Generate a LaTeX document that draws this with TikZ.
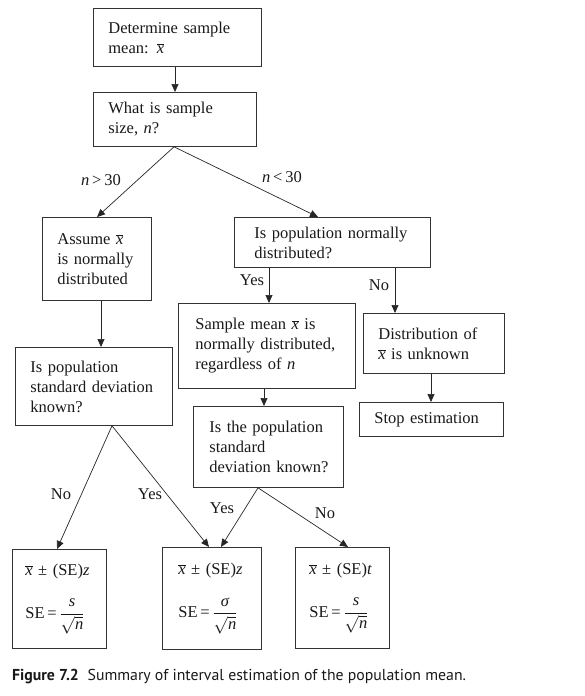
\documentclass[tikz,border=0pt]{standalone}
\usepackage{fontspec}
\setmainfont{Liberation Serif}
\newfontfamily\capfont{PT Sans}
\usetikzlibrary{arrows.meta}
\newcommand\xbar{\ensuremath{\overline{\mbox{\itshape x}}}}
\newcommand\frs{\ensuremath{\displaystyle\frac{\mbox{\itshape s}}{\sqrt{\mbox{\itshape n}}}}}
\newcommand\frsig{\ensuremath{\displaystyle\frac{\mbox{\itshape σ}}{\sqrt{\mbox{\itshape n}}}}}
\newcommand\bodyfont{\fontsize{16.5}{20}\selectfont}
\tikzset{
  box/.style={draw=black!80, line width=0.8pt, align=left, inner ysep=2pt,
    anchor=north west, font=\bodyfont, text=black!90},
  arr/.style={draw=black!85, line width=0.7pt, -{Triangle[length=8pt,width=7pt]}},
  lab/.style={font=\bodyfont, inner sep=0pt, text=black!90}
}
\begin{document}
\begin{tikzpicture}[x=1pt,y=-1pt]
\useasboundingbox (0,0) rectangle (585,696);
% boxes
\node[box, inner xsep=15pt, text width=138pt, minimum height=58pt] (b1) at (93,8)
  {\mbox{Determine sample}\\mean: \xbar};
\node[box, inner xsep=15pt, text width=133pt, minimum height=54pt] (b2) at (93,92)
  {\mbox{What is sample}\\size, \textit{n}?};
\node[box, inner xsep=15pt, text width=79pt, minimum height=83pt] (b3) at (42,217)
  {\mbox{Assume \xbar}\\\mbox{is normally}\\\mbox{distributed}};
\node[box, inner xsep=20pt, text width=156pt, minimum height=50pt] (b4) at (234,217)
  {\mbox{Is population normally}\\distributed?};
\node[box, inner xsep=17pt, text width=143pt, minimum height=85pt] (b5) at (178,303)
  {\mbox{Sample mean \xbar{} is}\\\mbox{normally distributed,}\\\mbox{regardless of \textit{n}}};
\node[box, inner xsep=15pt, text width=111pt, minimum height=60pt] (b6) at (363,313)
  {\mbox{Distribution of}\\\mbox{\xbar{} is unknown}};
\node[box, inner xsep=15pt, text width=114pt, minimum height=34pt] (b7) at (359,402)
  {\mbox{Stop estimation}};
\node[box, inner xsep=16pt, text width=118pt, minimum height=81pt] (b8) at (193,406)
  {\mbox{Is the population}\\standard\\\mbox{deviation known?}};
\node[box, inner xsep=15pt, text width=127pt, minimum height=78pt] (b9) at (15,347)
  {\mbox{Is population}\\\mbox{standard deviation}\\known?};
\node[box, inner xsep=13pt, text width=68pt, minimum height=99pt] (b10) at (12,549)
  {\mbox{\xbar{} ± (SE)\textit{z}}\\[19pt]\mbox{SE\,=\,\frs}};
\node[box, inner xsep=16pt, text width=67pt, minimum height=102pt] (b11) at (162,547)
  {\mbox{\xbar{} ± (SE)\textit{z}}\\[19pt]\mbox{SE\,=\,\frsig}};
\node[box, inner xsep=14pt, text width=66pt, minimum height=101pt] (b12) at (295,547)
  {\mbox{\xbar{} ± (SE)\textit{t}}\\[19pt]\mbox{SE\,=\,\frs}};
% connectors
\draw[arr] ([xshift=82pt]b1.south west) -- ([xshift=82pt]b2.north west);
\draw[arr] ([xshift=81pt]b2.south west) -- ([xshift=55pt]b3.north west);
\draw[arr] ([xshift=81pt]b2.south west) -- ([xshift=84pt]b4.north west);
\draw[arr] ([xshift=35pt]b4.south west) -- ([xshift=91pt]b5.north west);
\draw[arr] ([xshift=161pt]b4.south west) -- ([xshift=32pt]b6.north west);
\draw[arr] ([xshift=86pt]b5.south west) -- ([xshift=71pt]b8.north west);
\draw[arr] ([xshift=68pt]b6.south west) -- ([xshift=72pt]b7.north west);
\draw[arr] ([xshift=59pt]b3.south west) -- ([xshift=86pt]b9.north west);
\draw[arr] ([xshift=97pt]b9.south west) -- ([xshift=45pt]b10.north west);
\draw[arr] ([xshift=97pt]b9.south west) -- ([xshift=47pt]b11.north west);
\draw[arr] ([xshift=65pt]b8.south west) -- ([xshift=59pt]b11.north west);
\draw[arr] ([xshift=65pt]b8.south west) -- ([xshift=53pt]b12.north west);
% labels
\node[lab] (l1) at (101,180) {\textit{n}\,>\,30};
\node[lab] (l2) at (282,177) {\textit{n}\,<\,30};
\node[lab] (l3) at (252,280) {Yes};
\node[lab] (l4) at (379,285) {No};
\node[lab] (l5) at (61,494) {No};
\node[lab] (l6) at (150,494) {Yes};
\node[lab] (l7) at (222,508) {Yes};
\node[lab] (l8) at (325,513) {No};
% caption
\node[anchor=base west, inner sep=0pt, font=\capfont\fontsize{15.8}{18}\selectfont, text=black!90] (cap) at (12,680)
  {\textbf{Figure 7.2}\hspace{0.55em}Summary of interval estimation of the population mean.};
\end{tikzpicture}
\end{document}
